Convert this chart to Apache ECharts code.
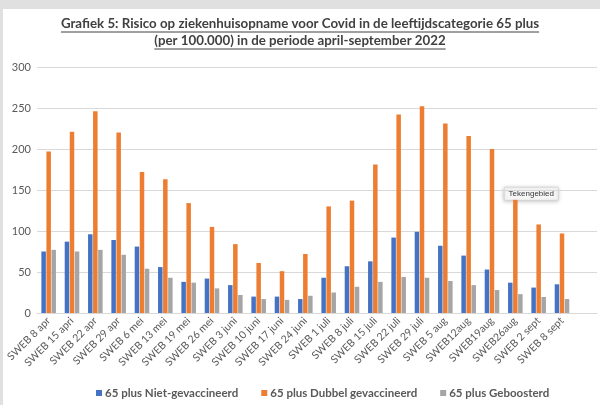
<!DOCTYPE html>
<html>
<head>
<meta charset="utf-8">
<script src="https://cdn.jsdelivr.net/npm/echarts@6/dist/echarts.min.js"></script>
<style>
  html, body { margin: 0; padding: 0; background: #e0e0e0; }
  #chart { width: 600px; height: 405px; }
</style>
</head>
<body>
<div id="chart"></div>
<script>
// Weekly hospital admission risk per 100,000, age group 65+
const weeks = ['SWEB 8 apr', 'SWEB 15 apri', 'SWEB 22 apr', 'SWEB 29 apr', 'SWEB 6 mei', 'SWEB 13 mei',
  'SWEB 19 mei', 'SWEB 26 mei', 'SWEB 3 juni', 'SWEB 10 juni', 'SWEB 17 juni', 'SWEB 24 juni',
  'SWEB 1 juli', 'SWEB 8 juli', 'SWEB 15 juli', 'SWEB 22 juli', 'SWEB 29 juli', 'SWEB 5 aug',
  'SWEB12aug', 'SWEB19aug', 'SWEB26aug', 'SWEB 2 sept', 'SWEB 8 sept', ''];
const nietGevaccineerd = [75, 87, 96, 89, 81, 56, 38, 42, 34, 20, 20, 17, 43, 57, 63, 92, 99, 82, 70, 53, 37, 31, 35];
const dubbelGevaccineerd = [197, 221, 246, 220, 172, 163, 134, 105, 84, 61, 51, 72, 130, 137, 181, 242, 252, 231, 216, 200, 138, 108, 97];
const geboosterd = [77, 75, 77, 71, 54, 43, 37, 30, 22, 17, 16, 21, 25, 32, 38, 44, 43, 39, 34, 28, 23, 19.5, 17];
const seriesNames = ['65 plus Niet-gevaccineerd', '65 plus Dubbel gevaccineerd', '65 plus Geboosterd'];
const yTicks = { min: 0, max: 300, interval: 50 };
const titleLines = ['Grafiek 5: Risico op ziekenhuisopname voor Covid in de leeftijdscategorie 65 plus',
  '(per 100.000) in de periode april-september 2022'];

const FONT = 'Lato, "Liberation Sans", sans-serif';
const TEXT = '#595959';

const chart = echarts.init(document.getElementById('chart'), null, { renderer: 'canvas' });

// underlined title: measure each line to size its underline
const ctx = document.createElement('canvas').getContext('2d');
const titleFont = 'bold 13.3px ' + FONT;
ctx.font = titleFont;
const titleGraphics = [];
titleLines.forEach((line, i) => {
  const y = 17 + i * 17;
  const w = ctx.measureText(line).width;
  titleGraphics.push({
    type: 'text', left: 'center', top: y,
    style: { text: line, font: titleFont, fill: '#404040' }
  });
  titleGraphics.push({
    type: 'line',
    shape: { x1: 300 - w / 2, y1: y + 15, x2: 300 + w / 2, y2: y + 15 },
    style: { stroke: '#404040', lineWidth: 1 }
  });
});

const common = { type: 'bar', barWidth: 4.5, barGap: '12%', barCategoryGap: '30%' };

chart.setOption({
  backgroundColor: 'transparent',
  animation: false,
  grid: { left: 37, right: 3, top: 67, bottom: 92, containLabel: false },
  legend: {
    bottom: 1, left: 91, itemWidth: 6, itemHeight: 6, itemGap: 23,
    icon: 'rect',
    textStyle: { color: TEXT, fontSize: 11.5, fontFamily: FONT, fontWeight: 'bold', padding: [0, 0, 0, -2] },
    data: seriesNames
  },
  xAxis: {
    type: 'category', data: weeks,
    axisLine: { lineStyle: { color: '#d9d9d9' } },
    axisTick: { show: false },
    axisLabel: { rotate: 45, interval: 0, color: TEXT, fontSize: 10.5, fontFamily: FONT, margin: 6 }
  },
  yAxis: {
    type: 'value', min: yTicks.min, max: yTicks.max, interval: yTicks.interval,
    axisLine: { show: false }, axisTick: { show: false },
    axisLabel: { color: TEXT, fontSize: 11, fontFamily: FONT, margin: 6 },
    splitLine: { lineStyle: { color: '#d9d9d9', width: 1 } }
  },
  series: [
    Object.assign({ name: seriesNames[0], data: nietGevaccineerd, itemStyle: { color: '#4472c4' } }, common),
    Object.assign({ name: seriesNames[1], data: dubbelGevaccineerd, itemStyle: { color: '#ed7d31' } }, common),
    Object.assign({ name: seriesNames[2], data: geboosterd, itemStyle: { color: '#a5a5a5' } }, common)
  ],
  graphic: [
    { type: 'rect', z: -10, shape: { x: 3, y: 9, width: 597, height: 396 }, style: { fill: '#ffffff' } },
    ...titleGraphics,
    {
      type: 'group', left: 504, top: 187, z: 100,
      children: [
        { type: 'rect', shape: { x: 0, y: 0, width: 54, height: 13 },
          style: { fill: '#f7f7f7', stroke: '#cfcfcf', lineWidth: 0.6,
                   shadowBlur: 4, shadowColor: 'rgba(0,0,0,0.25)', shadowOffsetY: 1 } },
        { type: 'text', x: 27, y: 6.5,
          style: { text: 'Tekengebied', font: '8px "Liberation Sans", sans-serif', fill: '#333',
                   align: 'center', verticalAlign: 'middle' } }
      ]
    }
  ]
});
</script>
</body>
</html>
